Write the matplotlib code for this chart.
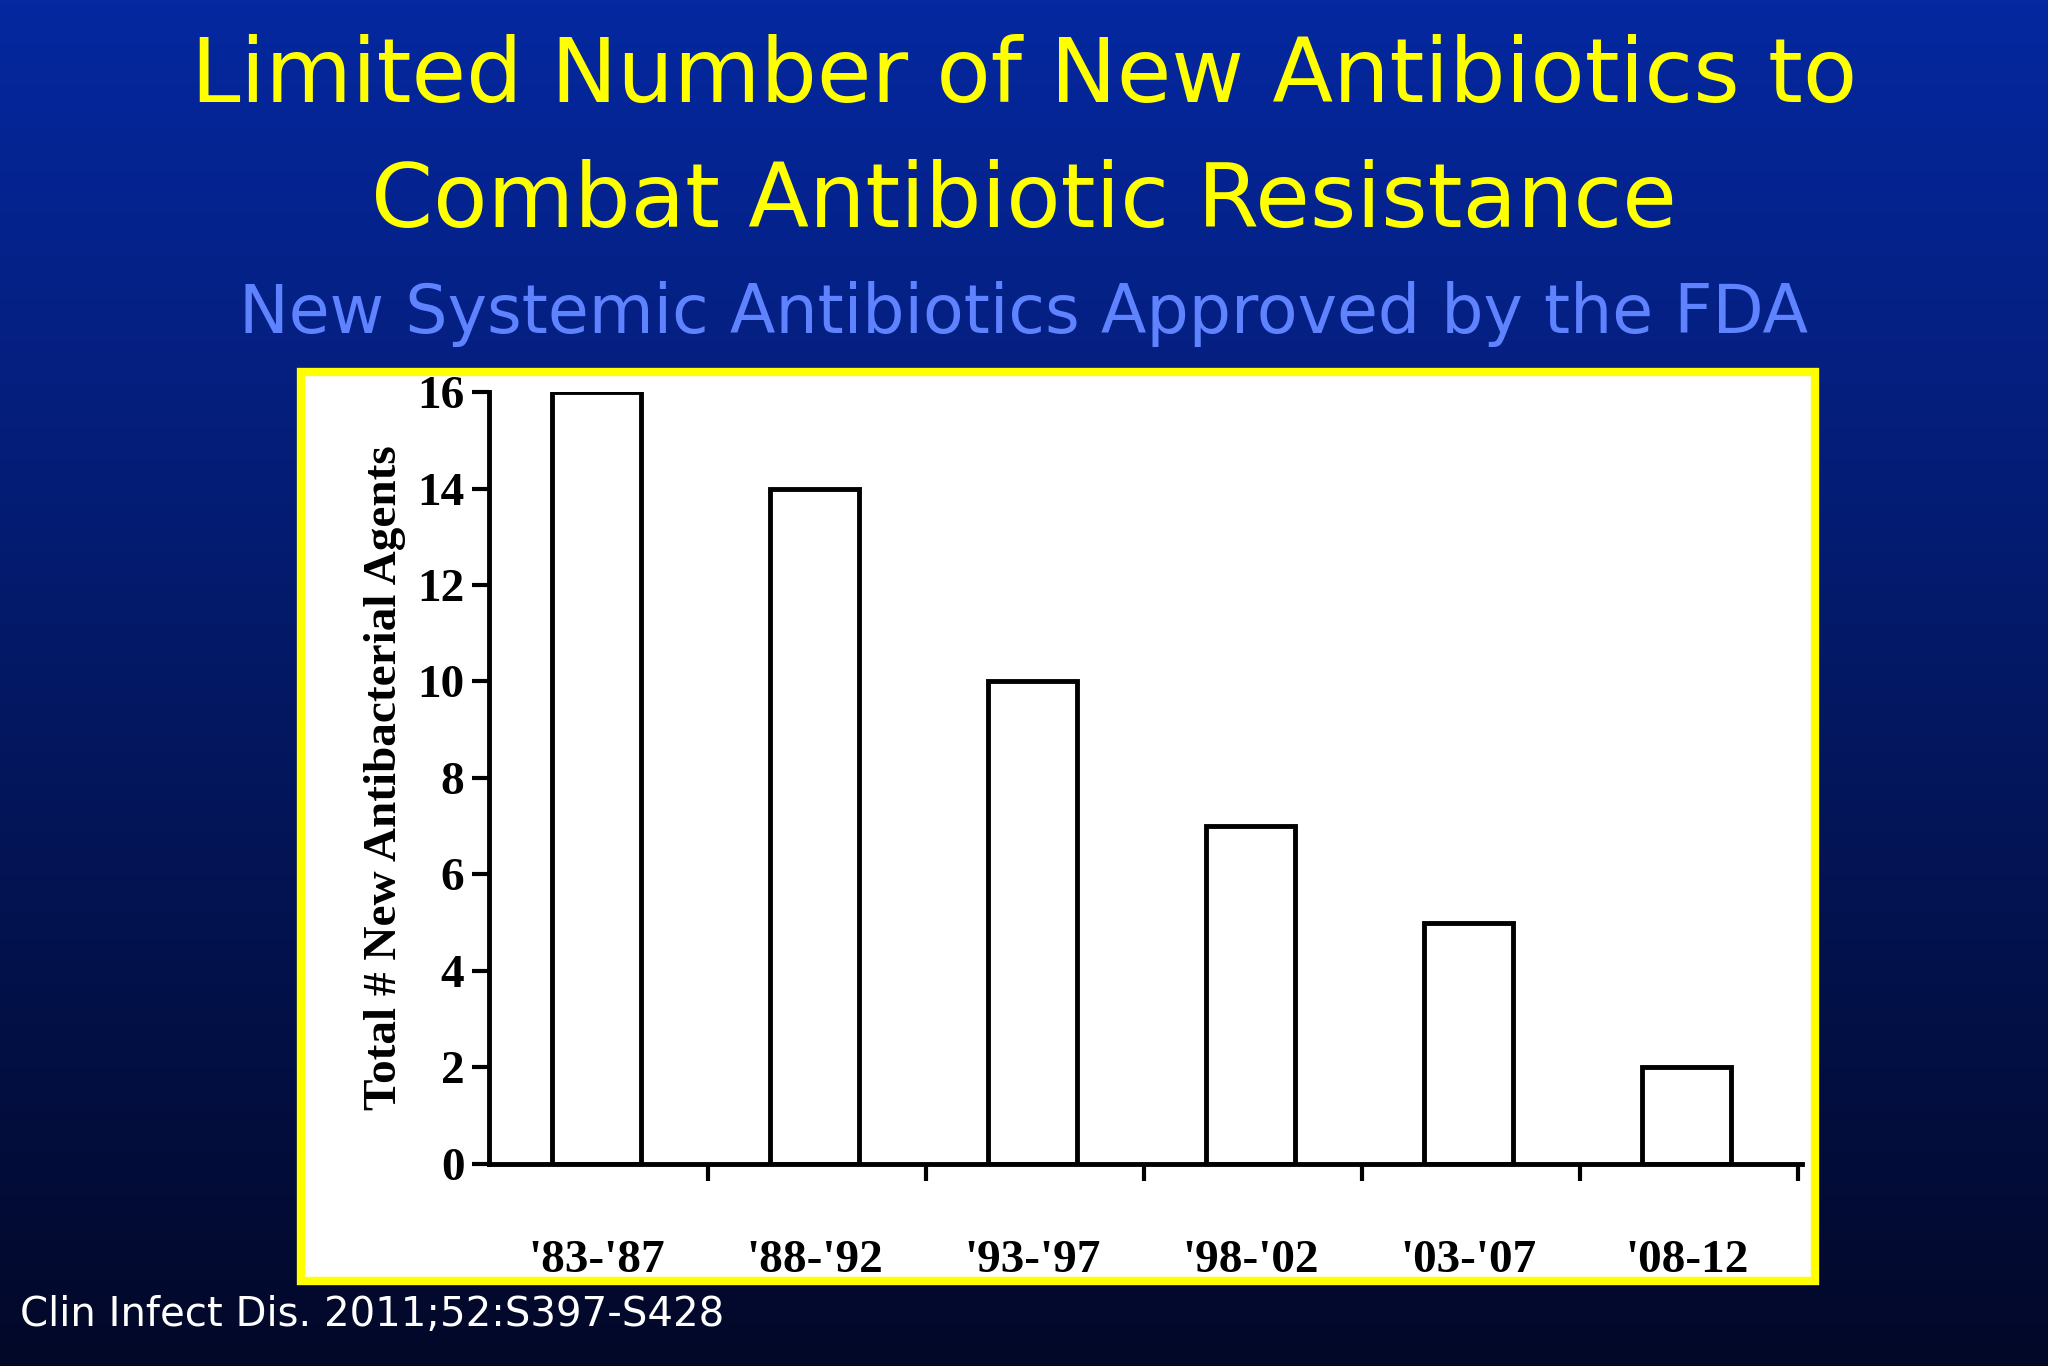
import matplotlib
matplotlib.use("Agg")
import matplotlib.pyplot as plt
import numpy as np
from matplotlib.patches import Rectangle

categories = ["'83-'87", "'88-'92", "'93-'97", "'98-'02", "'03-'07", "'08-12"]
values = [16, 14, 10, 7, 5, 2]
yticks = [0, 2, 4, 6, 8, 10, 12, 14, 16]

fig = plt.figure(figsize=(20.48, 13.66), dpi=100)
bg = fig.add_axes([0, 0, 1, 1])
grad = np.linspace(0, 1, 256).reshape(-1, 1)
top = np.array([0x05, 0x28, 0xa0]) / 255
bot = np.array([0x02, 0x08, 0x28]) / 255
img = top[None, None, :] * (1 - grad[:, :, None]) + bot[None, None, :] * grad[:, :, None]
bg.imshow(img, aspect='auto', extent=[0, 1, 0, 1])
bg.set_xlim(0, 1); bg.set_ylim(0, 1); bg.axis('off')

bg.text(0.5, 0.943, "Limited Number of New Antibiotics to", color='#ffff00', fontsize=64,
        ha='center', va='center', family='DejaVu Sans')
bg.text(0.5, 0.852, "Combat Antibiotic Resistance", color='#ffff00', fontsize=64,
        ha='center', va='center', family='DejaVu Sans')
bg.text(0.5, 0.770, "New Systemic Antibiotics Approved by the FDA", color='#5f82ff', fontsize=48,
        ha='center', va='center', family='DejaVu Sans')
bg.text(0.01, 0.037, "Clin Infect Dis. 2011;52:S397-S428", color='white', fontsize=29,
        ha='left', va='center', family='DejaVu Sans')
bg.add_patch(Rectangle((0.147, 0.062), 0.739, 0.666, facecolor='white', edgecolor='#ffff00', lw=6))

ax = fig.add_axes([0.239, 0.148, 0.641, 0.565])
x = np.arange(len(categories))
ax.bar(x, values, width=0.41, facecolor='white', edgecolor='black', lw=3.5)
ax.set_xlim(-0.49, 5.53)
ax.set_ylim(0, 16)
ax.set_yticks(yticks)
ax.set_xticks(x)
ax.set_xticklabels(categories)
ax.set_xticks(x + 0.51, minor=True)
ax.tick_params(axis='x', which='major', length=0, pad=55)
ax.tick_params(axis='x', which='minor', length=12, width=3, direction='out')
ax.tick_params(axis='y', length=12, width=3, direction='out', pad=6)
for lab in ax.get_xticklabels() + ax.get_yticklabels():
    lab.set_family('Liberation Serif'); lab.set_fontweight('bold'); lab.set_fontsize(34)
ax.set_ylabel("Total # New Antibacterial Agents", family='Liberation Serif', fontweight='bold',
              fontsize=34, labelpad=8)
ax.spines['top'].set_visible(False); ax.spines['right'].set_visible(False)
ax.spines['left'].set_linewidth(3.5); ax.spines['bottom'].set_linewidth(3.5)
ax.set_facecolor('white')
ax.patch.set_alpha(0)
fig.savefig("out.png", dpi=100)
